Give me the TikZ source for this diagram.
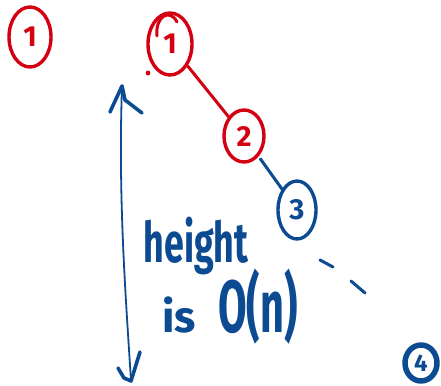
\documentclass[tikz,border=0pt]{standalone}
\usepackage{fontspec}
\setmainfont{Fira Sans}
\usetikzlibrary{shapes.geometric}
\definecolor{inkred}{HTML}{D40012}
\definecolor{inkblue}{HTML}{0C4A92}
\begin{document}
\begin{tikzpicture}[x=1pt,y=-1pt,
  line cap=round, line join=round,
  treenode/.style={ellipse, inner sep=0pt, line width=3.4pt,
    font=\bfseries\fontsize{29}{29}\selectfont},
  rednode/.style={treenode, draw=inkred, text=inkred},
  bluenode/.style={treenode, draw=inkblue, text=inkblue},
  redink/.style={draw=inkred, line width=3pt},
  blueink/.style={draw=inkblue, line width=3pt},
  note/.style={text=inkblue, font=\bfseries, inner sep=0pt}
]
\useasboundingbox (0,0) rectangle (441,385);

% lone node on the left
\node[rednode, minimum width=42pt, minimum height=60pt] (lone) at (30,37) {1};

% the path down the tree
\node[rednode, minimum width=44pt, minimum height=62pt] (root) at (170,44) {1};
\node[rednode, minimum width=40pt, minimum height=52pt] (two) at (244,136) {2};
\node[bluenode, minimum width=38pt, minimum height=58pt] (three) at (297,210) {3};
\node[bluenode, line width=5.5pt, minimum width=32pt, minimum height=36pt,
      font=\bfseries\fontsize{24}{24}\selectfont] (four) at (421,363) {4};

% second loop over the top of the root
\draw[redink] (157,36) .. controls (155,16) and (170,8) .. (177,22);
% small dot left of the root
\fill[inkred] (148,73) circle (2.4pt);

% edges
\draw[redink] (root) -- (two);
\draw[blueink, shorten <=3pt] (two) -- (three);

% dashes towards the last node
\coordinate (d1a) at (320,260); \coordinate (d1b) at (333,267);
\coordinate (d2a) at (351,281); \coordinate (d2b) at (365,293);
\draw[blueink] (d1a) -- (d1b);
\draw[blueink] (d2a) -- (d2b);

% height arrow
\coordinate (top) at (122,86);
\coordinate (bot) at (131,381);
\draw[draw=inkblue, line width=1.8pt] (top) .. controls (118,200) and (126,300) .. (bot);
\draw[blueink, line width=3.6pt] (110,112) -- (top) -- (125,100) -- (142,113);
\draw[blueink, line width=3.6pt] (118,368) -- (124,378) -- (bot) -- (140,352);

% label
\node[note, anchor=base] (lbl1) at (196,262)
  {\scalebox{0.64}[1]{\fontsize{56}{56}\selectfont height}};
\node[note, anchor=base] (lbl2) at (230,332)
  {{\fontsize{44}{44}\selectfont is}\hspace{22pt}\scalebox{0.56}[1]{\fontsize{74}{74}\selectfont O(n)}};
\end{tikzpicture}
\end{document}
